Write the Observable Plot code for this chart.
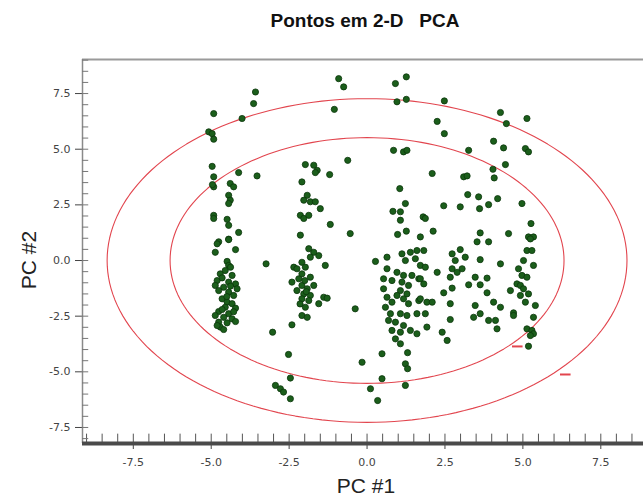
<!DOCTYPE html>
<html>
<head>
<meta charset="utf-8">
<script src="https://cdn.jsdelivr.net/npm/d3@7"></script>
<script src="https://cdn.jsdelivr.net/npm/@observablehq/plot@0.6"></script>
<style>
  body { margin: 0; background: #fff; }
  #wrap { position: relative; width: 643px; height: 502px; overflow: hidden; }
  #wrap svg { position: absolute; left: 0; top: 0; }
  .lbl { position: absolute; font-family: "Liberation Sans", Arial, sans-serif; color: #222; white-space: pre; line-height: 1; }
  #title { top: 11px; left: 365px; transform: translateX(-50%); font-size: 19px; font-weight: bold; color: #111; }
  #xlab { top: 475px; left: 366px; transform: translateX(-50%); font-size: 21px; }
  #ylab { top: 260px; left: 28px; transform: translate(-50%, -50%) rotate(-90deg); font-size: 21px; }
</style>
</head>
<body>
<div id="wrap">
  <div class="lbl" id="title">Pontos em 2-D   PCA</div>
  <div class="lbl" id="xlab">PC #1</div>
  <div class="lbl" id="ylab">PC #2</div>
</div>
<script>
// ---- data ----
const pc1 = [
  -3.58,-3.64,-4.92,-4.01,-5.08,-4.97,-4.92,-4.97,-4.92,-4.92,-4.96,-4.12,-3.53,-4.39,-4.28,-4.44,-4.39,-4.44,-4.92,-4.92,-4.49,-4.44,-4.12,-4.44,-4.76,
  -1.98,-1.71,-1.60,-1.66,-2.09,-1.92,-2.03,-1.82,-1.66,-1.50,-2.14,-2.03,-1.87,-2.14,
  -4.81,-4.44,-4.22,-4.87,-4.49,-4.44,-4.55,-4.71,-4.33,-4.81,-4.44,-4.22,-4.87,-4.60,-4.17,-4.76,-4.44,-4.28,-4.65,-4.49,-4.33,-4.55,-4.22,-4.76,-4.44,-4.87,-4.60,-4.33,-4.76,-4.49,-4.22,-4.71,-4.60,-4.81,
  -4.38,-4.65,-4.50,-4.28,-4.65,-4.38,-3.24,
  -1.87,-1.71,-1.55,-1.82,-2.09,-2.35,-2.25,-1.98,-2.09,-2.19,-1.82,-2.41,-2.09,-1.92,-1.71,-2.25,-2.03,-1.82,-2.09,-1.87,-1.55,-1.39,-1.98,-2.09,-1.92,-2.41,-3.03,-2.52,-2.46,-2.94,-2.78,-2.68,-2.46,
  -2.00,-1.95,-2.15,
  -0.91,-0.75,0.91,1.26,0.96,1.26,-1.05,0.85,1.17,1.28,-0.62,-1.20,1.05,1.23,0.83,1.07,1.07,1.80,-1.18,-0.54,0.98,1.26,1.71,
  -1.34,-1.28,-0.38,0.27,0.64,1.12,1.39,1.60,1.23,1.55,1.71,0.64,0.96,1.17,1.44,1.66,0.53,0.80,1.12,1.33,0.53,1.07,1.28,0.96,1.17,0.64,0.80,1.33,1.66,0.59,0.75,1.07,1.28,1.60,0.69,0.91,1.17,0.80,1.07,1.39,1.60,0.91,1.07,0.48,1.30,-0.16,1.23,1.30,0.48,1.23,0.11,0.34,
  2.48,4.28,4.47,5.13,2.25,2.48,4.06,4.38,5.08,5.18,3.26,4.44,4.04,4.08,2.09,3.10,3.21,3.23,3.58,4.19,4.97,2.46,2.99,3.61,3.90,1.87,5.26,2.12,3.63,4.54,5.18,5.34,3.53,3.90,
  1.82,1.87,1.71,1.82,1.71,1.92,2.09,1.87,1.92,2.73,2.99,2.83,3.15,2.73,3.05,2.89,2.25,2.67,3.63,4.28,3.47,3.85,3.63,3.26,2.46,2.73,3.85,4.06,4.28,2.67,3.47,3.63,3.42,3.90,4.12,4.17,2.67,2.41,2.57,4.70,4.70,
  5.24,5.13,5.29,5.02,5.34,4.86,4.97,5.13,4.81,4.92,5.02,4.60,4.92,5.18,5.08,5.40,5.34,5.13,5.29,5.34,5.24,5.18
];
const pc2 = [
  7.57,7.05,6.60,6.38,5.78,5.70,5.45,4.23,3.76,3.31,3.41,3.95,3.80,3.46,3.31,2.93,2.71,2.56,2.03,1.89,1.85,1.58,1.26,0.96,0.84,
  4.31,4.28,4.05,3.95,3.53,2.93,2.71,2.64,2.64,2.33,2.03,1.89,2.03,1.14,
  0.75,0.94,0.49,0.37,-0.04,-0.22,-0.45,-0.60,-0.67,-0.90,-0.97,-1.05,-1.12,-1.20,-1.27,-1.35,-1.42,-1.57,-1.72,-1.87,-1.94,-2.10,-2.14,-2.29,-2.39,-2.47,-2.55,-2.62,-2.77,-2.80,-2.74,-2.99,-3.10,-2.92,
  -0.30,-0.78,-1.62,-2.30,-2.20,-1.15,-0.15,
  0.53,0.37,0.22,0.15,-0.08,-0.30,-0.37,-0.30,-0.60,-0.82,-0.75,-0.97,-1.12,-1.27,-1.12,-1.35,-1.50,-1.57,-1.72,-1.80,-1.94,-1.65,-2.10,-2.47,-2.55,-2.89,-3.22,-4.22,-5.28,-5.61,-5.76,-5.91,-6.21,
  -0.90,-1.40,-1.95,
  8.17,7.80,7.95,8.25,7.13,7.24,6.79,4.95,4.88,4.95,4.50,3.86,3.23,2.56,2.21,2.19,1.81,1.96,1.62,1.21,1.17,1.32,1.06,
  -0.22,-1.69,-2.17,-0.04,0.15,0.30,0.37,0.45,0.00,0.08,-0.22,-0.37,-0.53,-0.67,-0.67,-0.82,-0.82,-0.90,-0.97,-1.12,-1.27,-1.35,-1.50,-1.57,-1.72,-1.65,-1.87,-1.94,-1.80,-2.10,-2.39,-2.39,-2.47,-2.39,-2.69,-2.77,-2.92,-3.14,-3.22,-3.14,-3.29,-3.52,-3.74,-4.19,-4.14,-4.57,-4.64,-4.86,-5.31,-5.61,-5.76,-6.29,
  7.17,6.65,6.15,6.38,6.25,5.70,5.36,5.06,5.03,4.88,4.95,4.31,4.10,3.71,3.91,3.76,3.80,2.96,2.86,2.78,2.56,2.46,2.41,2.33,2.51,1.89,1.66,1.32,1.24,1.21,1.06,1.06,0.84,0.84,
  0.45,-0.30,-0.82,-1.05,-1.72,-1.87,-1.87,-2.39,-2.99,0.30,0.49,0.00,0.15,-0.37,-0.37,-0.53,-0.53,-0.75,0.04,-0.15,-0.75,-0.79,-1.09,-1.09,-1.45,-1.24,-1.45,-1.87,-2.10,-1.94,-2.02,-2.39,-2.55,-2.69,-2.69,-3.07,-2.65,-3.22,-3.59,-2.35,-2.47,
  0.97,0.45,0.45,0.00,-0.22,-0.37,-0.67,-0.75,-1.05,-1.12,-1.27,-1.35,-1.57,-1.50,-1.87,-2.02,-2.55,-3.07,-3.14,-3.29,-3.37,-3.85
];

// confidence ellipses (centre at origin), semi-axes in data units
const ellipseNames = ["inner", "outer"];
const ellipseRx = [6.32, 8.34];
const ellipseRy = [5.52, 7.27];

// small red annotation marks near the ellipses
const noteX = [4.82, 6.36];
const noteY = [-3.86, -5.12];

// axes
const xDomain = [-9.13, 8.87];
const yDomain = [-8.22, 9.03];
const xTicks = [-7.5, -5.0, -2.5, 0.0, 2.5, 5.0, 7.5];
const yTicks = [-7.5, -5.0, -2.5, 0.0, 2.5, 5.0, 7.5];
const xMinor = d3.range(-9, 8.9, 0.5);
const yMinor = d3.range(-8, 9.01, 0.5);

// ---- build ----
const points = pc1.map((x, i) => ({x, y: pc2[i]}));
const ellipsePts = [];
ellipseNames.forEach((name, k) => {
  for (let a = 0; a <= 360; a += 2) {
    const t = a * Math.PI / 180;
    ellipsePts.push({ring: name, x: ellipseRx[k] * Math.cos(t), y: ellipseRy[k] * Math.sin(t)});
  }
});
const notes = noteX.map((x, i) => ({x1: x - 0.17, x2: x + 0.17, y: noteY[i]}));

const chart = Plot.plot({
  width: 643,
  height: 502,
  marginLeft: 82,
  marginRight: 0,
  marginTop: 59,
  marginBottom: 59,
  style: {fontFamily: "DejaVu Sans, sans-serif", fontSize: "11px", color: "#444", background: "transparent", overflow: "visible"},
  x: {domain: xDomain, ticks: xTicks, tickFormat: d => d.toFixed(1), tickSize: 6, tickPadding: 9, label: null},
  y: {domain: yDomain, ticks: yTicks, tickFormat: d => d.toFixed(1), tickSize: 7, tickPadding: 5, label: null},
  marks: [
    Plot.line(ellipsePts, {x: "x", y: "y", z: "ring", stroke: "#e2454e", strokeWidth: 1.1, curve: "linear"}),
    Plot.link(notes, {x1: "x1", x2: "x2", y1: "y", y2: "y", stroke: "#e2454e", strokeWidth: 2}),
    Plot.dot(points, {x: "x", y: "y", r: 3.1, fill: "#1b5e1b", stroke: "#0b360b", strokeWidth: 0.8}),
    Plot.ruleY([yDomain[1]], {stroke: "#9a9a9a", strokeWidth: 2}),
    Plot.ruleX([xDomain[0]], {stroke: "#8a8a8a", strokeWidth: 1.5}),
    Plot.ruleX(xMinor, {y1: yDomain[0], y2: yDomain[0] + 0.42, stroke: "#555", strokeWidth: 1}),
    Plot.ruleY(yMinor, {x1: xDomain[0], x2: xDomain[0] + 0.2, stroke: "#777", strokeWidth: 1}),
    Plot.ruleY([yDomain[0]], {stroke: "#4a4a4a", strokeWidth: 4})
  ]
});
document.getElementById("wrap").prepend(chart);
</script>
</body>
</html>
